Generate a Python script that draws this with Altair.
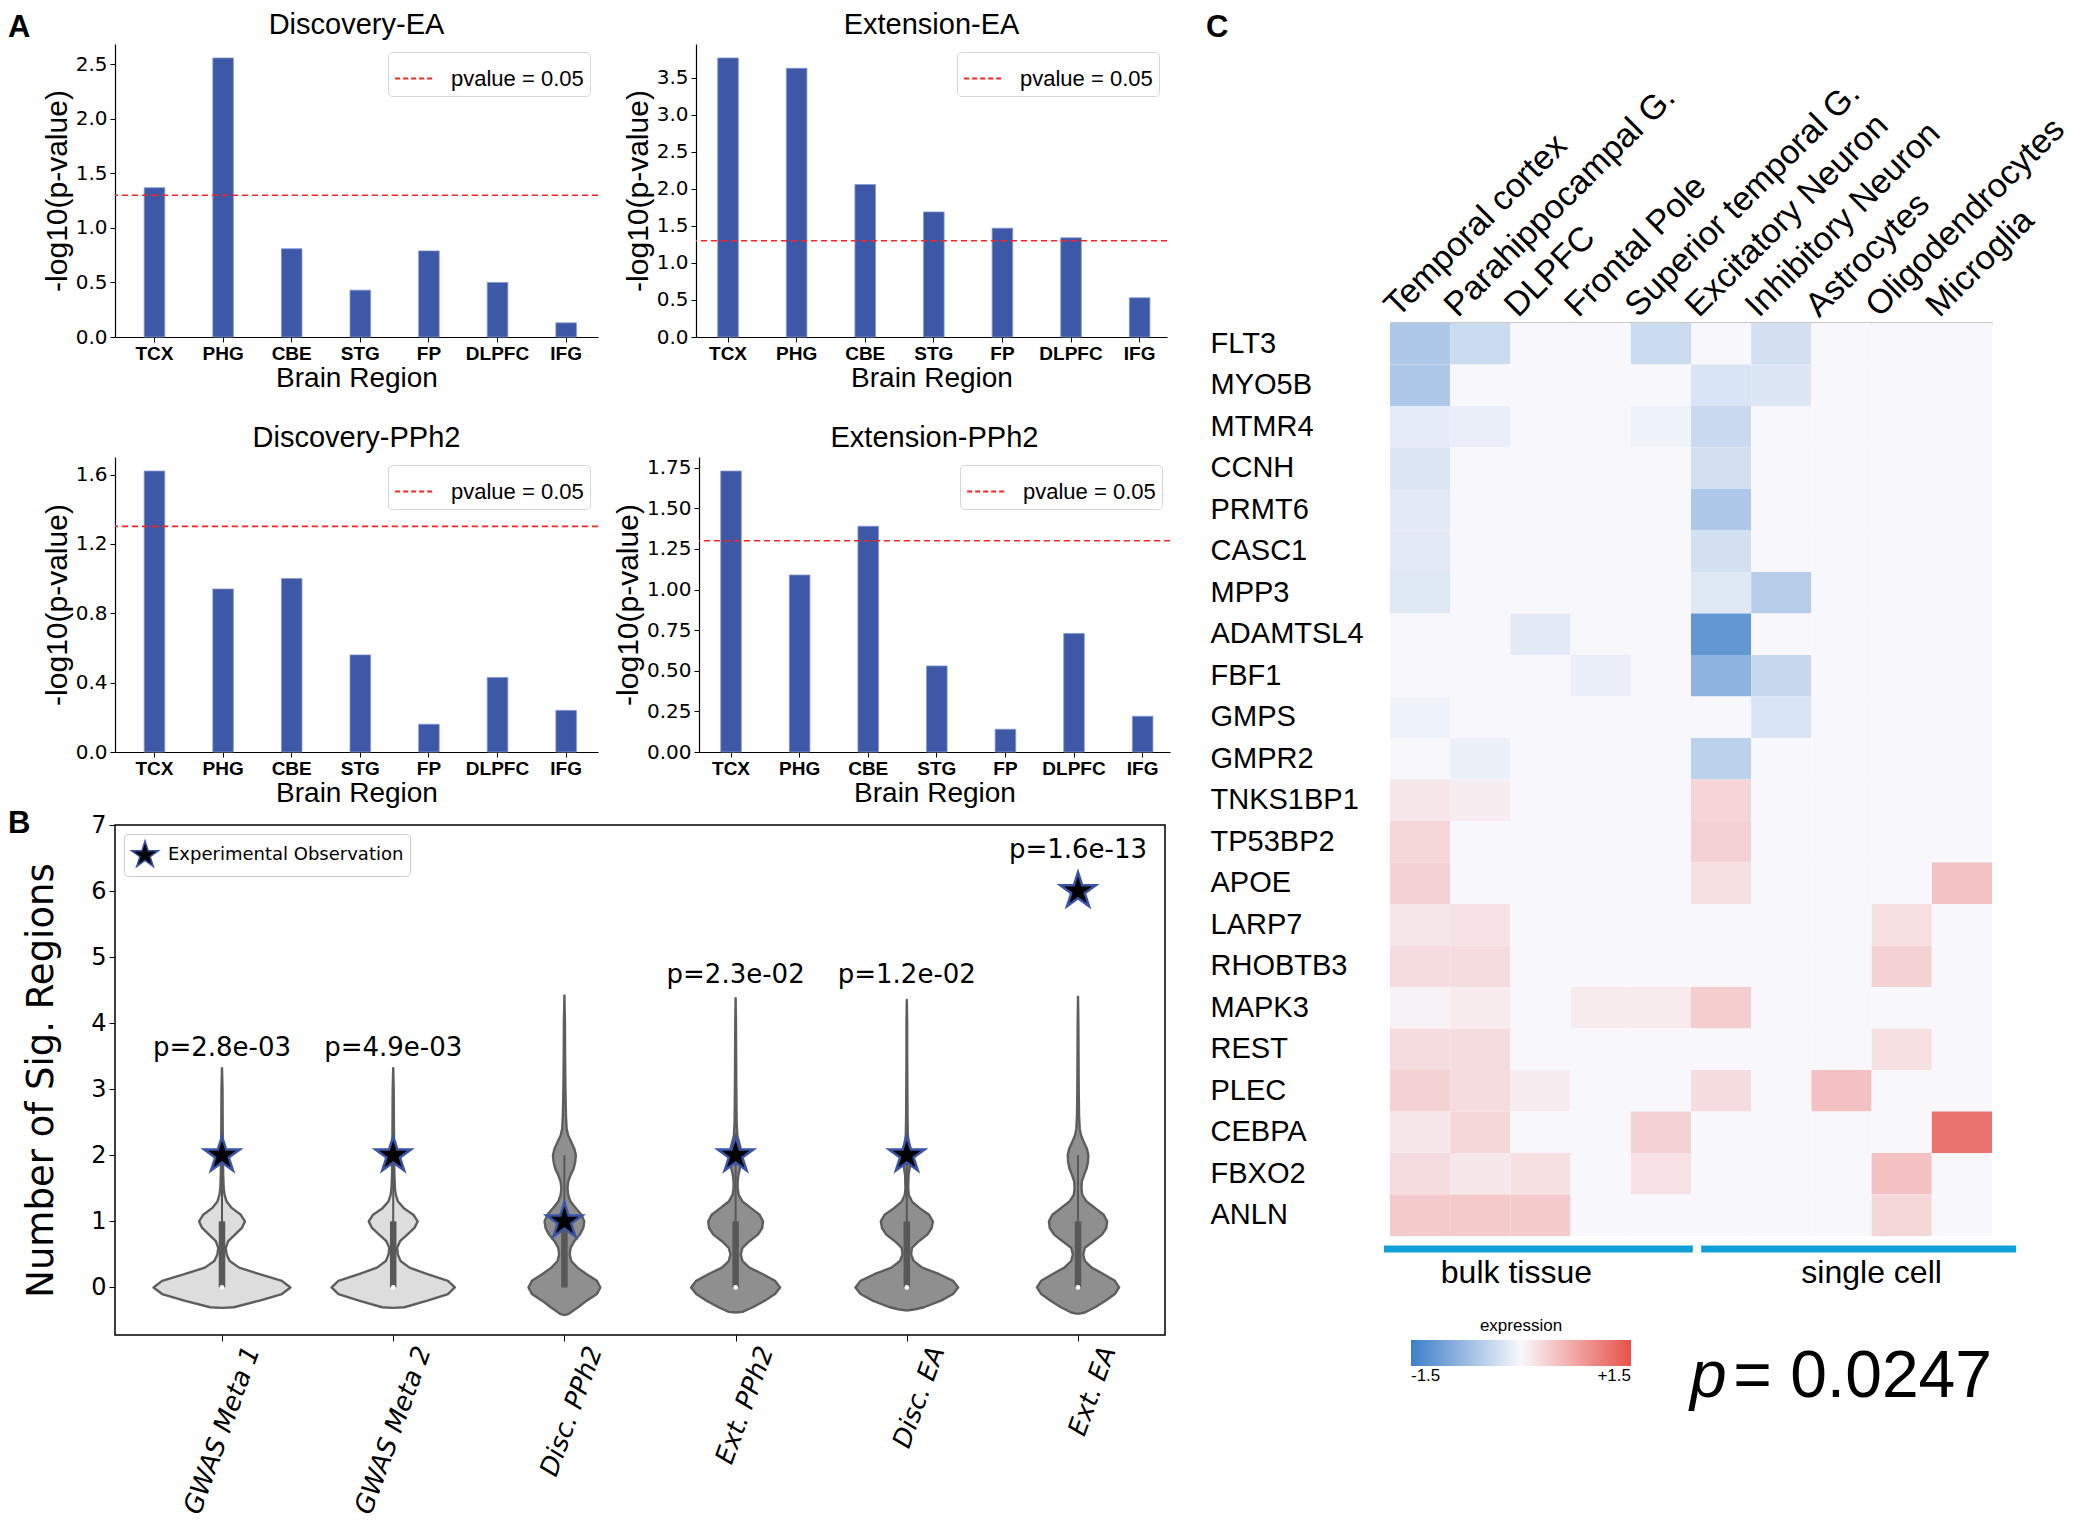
import altair as alt
import pandas as pd

FONT = "Liberation Sans"
NUMFONT = "DejaVu Sans"

# ---------------- Panel A data ----------------
regions = ["TCX", "PHG", "CBE", "STG", "FP", "DLPFC", "IFG"]
disc_ea = [1.37, 2.56, 0.81, 0.43, 0.79, 0.50, 0.13]
ext_ea = [3.77, 3.63, 2.06, 1.69, 1.47, 1.34, 0.53]
disc_pph2 = [1.62, 0.94, 1.00, 0.56, 0.16, 0.43, 0.24]
ext_pph2 = [1.73, 1.09, 1.39, 0.53, 0.14, 0.73, 0.22]
threshold = [1.30103]
threshold_label = ["pvalue = 0.05"]
ticks_disc_ea = [0.0, 0.5, 1.0, 1.5, 2.0, 2.5]
ticks_ext_ea = [0.0, 0.5, 1.0, 1.5, 2.0, 2.5, 3.0, 3.5]
ticks_disc_pph2 = [0.0, 0.2, 0.4, 0.6, 0.8, 1.0, 1.2, 1.4, 1.6]
ticks_ext_pph2 = [0.0, 0.25, 0.5, 0.75, 1.0, 1.25, 1.5, 1.75]

# ---------------- Panel B data ----------------
violin_names = ["GWAS Meta 1", "GWAS Meta 2", "Disc. PPh2", "Ext. PPh2", "Disc. EA", "Ext. EA"]
violin_kind = ["light", "light", "dark", "dark", "dark", "dark"]
observed = [2, 2, 1, 2, 2, 6]
p_labels = ["p=2.8e-03", "p=4.9e-03", "", "p=2.3e-02", "p=1.2e-02", "p=1.6e-13"]
p_label_y = [3.63, 3.63, 0.0, 4.73, 4.73, 6.62]
box_q1 = [0, 0, 0, 0, 0, 0]
box_q3 = [1, 1, 1, 1, 1, 1]
medians = [0, 0, 1, 0, 0, 0]
whisker_hi = [2, 2, 2, 2, 2, 2]

gwas1_lev = [-0.31, -0.3, -0.2, -0.1, 0, 0.1, 0.2, 0.3, 0.4, 0.5, 0.6, 0.7, 0.8, 0.9,
             1.0, 1.1, 1.2, 1.3, 1.4, 1.5, 1.7, 2.0, 2.5, 3.0, 3.32]
gwas1_hw = [0, 0.07, 0.22, 0.35, 0.40, 0.35, 0.22, 0.10, 0.045, 0.027, 0.022, 0.036, 0.076, 0.116,
            0.134, 0.11, 0.058, 0.027, 0.015, 0.01, 0.007, 0.005, 0.004, 0.003, 0]
gwas2_lev = [-0.31, -0.3, -0.2, -0.1, 0, 0.1, 0.2, 0.3, 0.4, 0.5, 0.6, 0.7, 0.8, 0.9,
             1.0, 1.1, 1.2, 1.3, 1.4, 1.5, 1.7, 2.0, 2.5, 3.0, 3.32]
gwas2_hw = [0, 0.065, 0.2, 0.32, 0.36, 0.32, 0.2, 0.095, 0.043, 0.027, 0.023, 0.04, 0.082, 0.124,
            0.143, 0.118, 0.062, 0.028, 0.015, 0.01, 0.007, 0.005, 0.004, 0.003, 0]
dpph2_lev = [-0.42, -0.4, -0.3, -0.2, -0.1, 0, 0.1, 0.2, 0.3, 0.4, 0.5, 0.6, 0.7, 0.8, 0.9,
             1.0, 1.1, 1.2, 1.3, 1.4, 1.5, 1.6, 1.7, 1.8, 1.9, 2.0, 2.1, 2.2, 2.3, 2.4,
             2.6, 3.0, 3.5, 4.0, 4.42]
dpph2_hw = [0, 0.025, 0.08, 0.13, 0.19, 0.21, 0.19, 0.13, 0.076, 0.04, 0.031, 0.036, 0.058, 0.09, 0.11,
            0.116, 0.10, 0.067, 0.036, 0.022, 0.018, 0.022, 0.036, 0.054, 0.063, 0.067, 0.058, 0.04, 0.022, 0.013,
            0.009, 0.006, 0.004, 0.003, 0]
epph2_lev = [-0.38, -0.37, -0.3, -0.2, -0.1, 0, 0.1, 0.2, 0.3, 0.4, 0.5, 0.6, 0.7, 0.8, 0.9,
             1.0, 1.1, 1.2, 1.3, 1.4, 1.5, 1.6, 1.7, 1.8, 1.9, 2.0, 2.1, 2.2, 2.3, 2.5,
             3.0, 3.5, 4.0, 4.38]
epph2_hw = [0, 0.04, 0.1, 0.17, 0.23, 0.26, 0.23, 0.16, 0.08, 0.04, 0.03, 0.04, 0.08, 0.13, 0.155,
            0.16, 0.14, 0.09, 0.04, 0.018, 0.012, 0.012, 0.016, 0.025, 0.032, 0.035, 0.03, 0.02, 0.01, 0.006,
            0.004, 0.003, 0.002, 0]
dea_lev = [-0.35, -0.33, -0.3, -0.2, -0.1, 0, 0.1, 0.2, 0.3, 0.4, 0.5, 0.6, 0.7, 0.8, 0.9,
           1.0, 1.1, 1.2, 1.3, 1.4, 1.5, 1.7, 1.8, 1.9, 2.0, 2.1, 2.2, 2.3,
           2.6, 3.0, 3.5, 4.0, 4.35]
dea_hw = [0, 0.05, 0.1, 0.2, 0.27, 0.30, 0.27, 0.19, 0.09, 0.04, 0.025, 0.03, 0.07, 0.12, 0.145,
          0.152, 0.13, 0.075, 0.03, 0.012, 0.008, 0.01, 0.016, 0.022, 0.025, 0.02, 0.012, 0.006,
          0.004, 0.003, 0.002, 0.002, 0]
eea_lev = [-0.4, -0.38, -0.3, -0.2, -0.1, 0, 0.1, 0.2, 0.3, 0.4, 0.5, 0.6, 0.7, 0.8, 0.9,
           1.0, 1.1, 1.2, 1.3, 1.4, 1.5, 1.6, 1.7, 1.8, 1.9, 2.0, 2.1, 2.2, 2.3, 2.4,
           2.6, 3.0, 3.5, 4.0, 4.4]
eea_hw = [0, 0.04, 0.1, 0.16, 0.215, 0.24, 0.215, 0.15, 0.08, 0.04, 0.03, 0.04, 0.09, 0.14, 0.165,
          0.17, 0.15, 0.1, 0.05, 0.025, 0.02, 0.022, 0.035, 0.05, 0.058, 0.06, 0.052, 0.034, 0.018, 0.01,
          0.006, 0.004, 0.003, 0.002, 0]
violin_levels = [gwas1_lev, gwas2_lev, dpph2_lev, epph2_lev, dea_lev, eea_lev]
violin_halfwidths = [gwas1_hw, gwas2_hw, dpph2_hw, epph2_hw, dea_hw, eea_hw]

# ---------------- Panel C data ----------------
tissues = ["Temporal cortex", "Parahippocampal G.", "DLPFC", "Frontal Pole", "Superior temporal G.",
           "Excitatory Neuron", "Inhibitory Neuron", "Astrocytes", "Oligodendrocytes", "Microglia"]
genes = ["FLT3", "MYO5B", "MTMR4", "CCNH", "PRMT6", "CASC1", "MPP3", "ADAMTSL4", "FBF1", "GMPS",
         "GMPR2", "TNKS1BP1", "TP53BP2", "APOE", "LARP7", "RHOBTB3", "MAPK3", "REST", "PLEC",
         "CEBPA", "FBXO2", "ANLN"]
expression = [
    [-0.6, -0.35, 0, 0, -0.35, 0, -0.3, 0, 0, 0],
    [-0.6, 0, 0, 0, 0, -0.25, -0.22, 0, 0, 0],
    [-0.15, -0.12, 0, 0, -0.08, -0.38, 0, 0, 0, 0],
    [-0.22, 0, 0, 0, 0, -0.3, 0, 0, 0, 0],
    [-0.17, 0, 0, 0, 0, -0.6, 0, 0, 0, 0],
    [-0.17, 0, 0, 0, 0, -0.3, 0, 0, 0, 0],
    [-0.2, 0, 0, 0, 0, -0.2, -0.52, 0, 0, 0],
    [0, 0, -0.17, 0, 0, -1.2, 0, 0, 0, 0],
    [0, 0, 0, -0.12, 0, -0.85, -0.4, 0, 0, 0],
    [-0.08, 0, 0, 0, 0, 0, -0.25, 0, 0, 0],
    [0, -0.1, 0, 0, 0, -0.48, 0, 0, 0, 0],
    [0.15, 0.1, 0, 0, 0, 0.32, 0, 0, 0, 0],
    [0.3, 0, 0, 0, 0, 0.35, 0, 0, 0, 0],
    [0.35, 0, 0, 0, 0, 0.22, 0, 0, 0, 0.48],
    [0.15, 0.2, 0, 0, 0, 0, 0, 0, 0.22, 0],
    [0.25, 0.25, 0, 0, 0, 0, 0, 0, 0.35, 0],
    [0.05, 0.12, 0, 0.12, 0.12, 0.38, 0, 0, 0, 0],
    [0.25, 0.25, 0, 0, 0, 0, 0, 0, 0.22, 0],
    [0.35, 0.25, 0.1, 0, 0, 0.25, 0, 0.5, 0, 0],
    [0.15, 0.3, 0, 0, 0.35, 0, 0, 0, 0, 1.2],
    [0.25, 0.15, 0.22, 0, 0.2, 0, 0, 0, 0.5, 0],
    [0.42, 0.42, 0.42, 0, 0, 0, 0, 0, 0.3, 0],
]
group_names = ["bulk tissue", "single cell"]
group_start = [-0.1, 5.17]
group_end = [5.03, 10.4]
group_label_at = [2.1, 8.0]
p_overall = "0.0247"

BAR_BLUE = "#3d58a6"
RED = "#ff2222"
# five-pointed star as a custom symbol path (unit box -1..1)
STAR_PATH = ("M0,-1L0.2245,-0.309L0.951,-0.309L0.363,0.118L0.588,0.809L0,0.382"
             "L-0.588,0.809L-0.363,0.118L-0.951,-0.309L-0.2245,-0.309Z")


def cond_expr(names, idx_expr):
    out = "''"
    for k in range(len(names) - 1, -1, -1):
        out = "(" + idx_expr + " == " + str(k) + " ? '" + names[k] + "' : " + out + ")"
    return out


def text_chart(txt, x, y, size, weight="normal", align="left", baseline="top", style="normal", font=FONT):
    return alt.Chart(pd.DataFrame({"t": [txt]})).mark_text(
        font=font, fontSize=size, fontWeight=weight, align=align, baseline=baseline, fontStyle=style,
        color="black"
    ).encode(text="t:N", x=alt.value(x), y=alt.value(y))


def panel_a(title, vals, ticks, fmt, width, height, pad_outer, align, letter=None):
    df = pd.DataFrame({"region": regions, "val": vals})
    ymax = max(vals) * 1.05
    bars = alt.Chart(df).mark_bar(color=BAR_BLUE, stroke="#8498d2", strokeWidth=0.8).encode(
        x=alt.X("region:N", sort=regions, title="Brain Region",
                scale=alt.Scale(paddingInner=0.7, paddingOuter=pad_outer, align=align),
                axis=alt.Axis(labelAngle=0, labelFont=FONT, labelFontSize=19, labelFontWeight="bold",
                              labelColor="black", labelPadding=2, tickSize=5, tickColor="black",
                              domainColor="black", domainWidth=1.2, titleFont=FONT, titleFontSize=28,
                              titleFontWeight="normal", titleColor="black", titlePadding=1)),
        y=alt.Y("val:Q", title="-log10(p-value)",
                scale=alt.Scale(domain=[0, ymax], nice=False, zero=True),
                axis=alt.Axis(values=ticks, format=fmt, labelFont=NUMFONT, labelFontSize=20,
                              labelColor="black", tickSize=5, tickColor="black", domainColor="black",
                              domainWidth=1.2, grid=False, titleFont=FONT, titleFontSize=30,
                              titleFontWeight="normal", titleColor="black", titlePadding=3,
                              labelPadding=3)),
    )
    thr = alt.Chart(pd.DataFrame({"thr": threshold, "lab": threshold_label})).mark_rule(
        strokeDash=[6, 4], strokeWidth=1.6
    ).encode(
        y=alt.Y("thr:Q", title="-log10(p-value)"),
        color=alt.Color("lab:N", scale=alt.Scale(range=[RED]),
                        legend=alt.Legend(title=None, orient="top-right", offset=8, symbolType="stroke",
                                          symbolDash=[5, 3], symbolStrokeWidth=2, symbolSize=1500,
                                          labelFont=FONT, labelFontSize=22, labelColor="black",
                                          labelOffset=16, fillColor="white", strokeColor="#d6d6d6",
                                          cornerRadius=4, padding=6)),
    )
    layers = [bars, thr, text_chart(title, width / 2, -4, 29, align="center", baseline="bottom")]
    if letter:
        layers.append(text_chart(letter, -107, -31, 31, weight="bold"))
    return alt.layer(*layers).properties(width=width, height=height)


def indep(ch):
    return ch.resolve_scale(color="independent", shape="independent").resolve_legend(
        color="independent", shape="independent")


A1 = panel_a("Discovery-EA", disc_ea, ticks_disc_ea, ".1f", 483, 293, 0.37, 0.575, letter="A")
A2 = panel_a("Extension-EA", ext_ea, ticks_ext_ea, ".1f", 471, 293, 0.283, 0.56)
A3 = panel_a("Discovery-PPh2", disc_pph2, ticks_disc_pph2, ".1f", 483, 295, 0.37, 0.575)
A4 = panel_a("Extension-PPh2", ext_pph2, ticks_ext_pph2, ".2f", 471, 295, 0.283, 0.56)

row1 = indep(alt.hconcat(A1, A2, spacing=24))
row2 = indep(alt.hconcat(A3, A4, spacing=14))
rowsA = indep(alt.vconcat(row1, row2, spacing=32))

# ---------------- Panel B ----------------
orows = []
for i, (name, kind, ys, ws) in enumerate(zip(violin_names, violin_kind, violin_levels, violin_halfwidths)):
    left_side = [(i - w, y) for y, w in zip(ys, ws)]
    right_side = [(i + w, y) for y, w in reversed(list(zip(ys, ws)))]
    for k, (xv, yv) in enumerate(left_side + right_side):
        orows.append({"name": name, "kind": kind, "vx": xv, "vy": yv, "ord": k})
odf = pd.DataFrame(orows)

bdf = pd.DataFrame({
    "name": violin_names, "pos": list(range(len(violin_names))), "q1": box_q1, "q3": box_q3,
    "med": medians, "whi": whisker_hi, "obs": observed,
    "lab": ["Experimental Observation"] * len(violin_names),
})
pdf = pd.DataFrame({
    "pos": [i for i, t in enumerate(p_labels) if t],
    "py": [p_label_y[i] for i, t in enumerate(p_labels) if t],
    "ptxt": [t for t in p_labels if t],
})

B_W, B_H = 1050, 510
YT = "Number of Sig. Regions"
XB = alt.Scale(domain=[-0.625, 5.508], nice=False, zero=False)
YB = alt.Scale(domain=[-0.72, 7], nice=False, zero=False)

xb_axis = alt.Axis(values=list(range(6)), labelExpr=cond_expr(violin_names, "round(datum.value)"),
                   labelAngle=-70, labelAlign="right", labelBaseline="middle", labelFont=NUMFONT,
                   labelFontStyle="italic", labelFontSize=26, labelColor="black", labelOffset=30,
                   labelPadding=6, tickSize=6, tickColor="black", domain=False, grid=False,
                   labelOverlap=False, labelFlush=False)
yb_axis = alt.Axis(values=list(range(8)), format="d", labelFont=NUMFONT, labelFontSize=24,
                   labelColor="black", tickSize=6, tickColor="black", domain=False, grid=False,
                   titleFont=NUMFONT, titleFontSize=37, titleFontWeight="normal",
                   titleColor="black", titlePadding=30, labelPadding=3)


def violin_layer(kind, fill):
    return alt.Chart(odf[odf["kind"] == kind]).mark_line(
        fill=fill, stroke="#5e5e5e", strokeWidth=2.4, strokeJoin="round"
    ).encode(
        x=alt.X("vx:Q", scale=XB, title=None, axis=xb_axis),
        y=alt.Y("vy:Q", scale=YB, title=YT, axis=yb_axis),
        detail="name:N",
        order="ord:Q",
    )


viol_light = violin_layer("light", "#dddddd")
viol_dark = violin_layer("dark", "#8f8f8f")
whisk = alt.Chart(bdf).mark_rule(color="#585858", strokeWidth=2).encode(
    x=alt.X("pos:Q", scale=XB, title=None), y=alt.Y("q1:Q", scale=YB, title=YT), y2="whi:Q")
box = alt.Chart(bdf).mark_rule(color="#585858", strokeWidth=6.5).encode(
    x=alt.X("pos:Q", scale=XB, title=None), y=alt.Y("q1:Q", scale=YB, title=YT), y2="q3:Q")
medpt = alt.Chart(bdf).mark_point(shape="circle", filled=True, size=22, color="white", opacity=1).encode(
    x=alt.X("pos:Q", scale=XB, title=None), y=alt.Y("med:Q", scale=YB, title=YT))
stars = alt.Chart(bdf).mark_point(filled=True, size=1400, fill="black", stroke="#3a55a8", strokeWidth=2.5,
                                  opacity=1).encode(
    x=alt.X("pos:Q", scale=XB, title=None), y=alt.Y("obs:Q", scale=YB, title=YT),
    shape=alt.Shape("lab:N", scale=alt.Scale(range=[STAR_PATH]),
                    legend=alt.Legend(title=None, orient="top-left", offset=9, fillColor="white",
                                      strokeColor="#cccccc", cornerRadius=4, padding=6, labelFont=NUMFONT,
                                      labelFontSize=18, labelColor="black", symbolSize=800,
                                      labelOffset=8, labelLimit=0)))
ptext = alt.Chart(pdf).mark_text(font=NUMFONT, fontSize=26, color="black").encode(
    x=alt.X("pos:Q", scale=XB, title=None), y=alt.Y("py:Q", scale=YB, title=YT), text="ptxt:N")
frame = alt.Chart(pd.DataFrame({"f": [0]})).mark_rect(
    fill="transparent", stroke="black", strokeWidth=1.5).encode(
    x=alt.value(0), x2=alt.value(B_W), y=alt.value(0), y2=alt.value(B_H))

B = alt.layer(viol_light, viol_dark, whisk, box, medpt, stars, ptext, frame,
              text_chart("B", -107, -16, 31, weight="bold")).properties(width=B_W, height=B_H)

left = indep(alt.vconcat(rowsA, B, spacing=1))

# ---------------- Panel C ----------------
HEAT_W, HEAT_H = 602, 913
hrows = []
for g, row in zip(genes, expression):
    for j, v in enumerate(row):
        hrows.append({"gene": g, "col": j, "col_end": j + 1, "val": v})
hdf = pd.DataFrame(hrows)
XH = alt.Scale(domain=[0, len(tissues)], nice=False, zero=False)
XH_AXIS = alt.Axis(orient="top", values=[j + 0.5 for j in range(len(tissues))],
                   labelExpr=cond_expr(tissues, "floor(datum.value)"), labelAngle=-45,
                   labelAlign="left", labelBaseline="middle", labelFont=FONT, labelFontSize=34,
                   labelColor="black", labelPadding=12, labelOffset=-30, ticks=False, tickSize=0,
                   domainColor="#c8c8c8", domainWidth=3, grid=False, labelOverlap=False,
                   labelFlush=False, labelLimit=0)

rect = alt.Chart(hdf).mark_rect().encode(
    x=alt.X("col:Q", scale=XH, title=None, axis=XH_AXIS),
    x2="col_end:Q",
    y=alt.Y("gene:N", sort=genes, title=None, scale=alt.Scale(paddingInner=0, paddingOuter=0),
            axis=alt.Axis(labelAlign="left", labelPadding=180, ticks=False, tickSize=0, domain=False,
                          labelFont=FONT, labelFontSize=29, labelColor="black", labelBaseline="middle",
                          labelLimit=0)),
    color=alt.Color("val:Q",
                    scale=alt.Scale(domain=[-1.5, 0, 1.5], range=["#3d7fc9", "#f8f8fc", "#e8524a"],
                                    interpolate="rgb"),
                    legend=alt.Legend(orient="none", legendX=21, legendY=HEAT_H + 104, direction="horizontal",
                                      gradientLength=220, gradientThickness=26, title=None,
                                      values=[-1.5, 1.5],
                                      labelExpr="datum.value > 0 ? '+1.5' : '-1.5'", labelFont=FONT,
                                      labelFontSize=17, labelColor="black", padding=0)),
)
gdf = pd.DataFrame({"group": group_names, "gs": group_start, "ge": group_end, "gm": group_label_at})
grule = alt.Chart(gdf).mark_rule(color="#119fd7", strokeWidth=7).encode(
    x=alt.X("gs:Q", scale=XH, title=None, axis=XH_AXIS), x2="ge:Q", y=alt.value(HEAT_H + 13))
gtext = alt.Chart(gdf).mark_text(font=FONT, fontSize=32, baseline="top", color="black").encode(
    x=alt.X("gm:Q", scale=XH, title=None, axis=XH_AXIS), text="group:N", y=alt.value(HEAT_H + 22))

heat = alt.layer(
    rect, grule, gtext,
    text_chart("expression", 131, HEAT_H + 99, 17, align="center", baseline="bottom"),
    text_chart("p", 300, HEAT_H + 161, 66, align="left", baseline="alphabetic", style="italic"),
    text_chart("= " + p_overall, HEAT_W, HEAT_H + 161, 66, align="right", baseline="alphabetic"),
).properties(width=HEAT_W, height=HEAT_H)
spacer = text_chart("C", -184, -31, 31, weight="bold").properties(width=HEAT_W, height=1)
C = indep(alt.vconcat(spacer, heat, spacing=30))

chart = indep(alt.hconcat(left, C, spacing=35)).properties(
    padding={"left": 0, "top": 3, "right": 0, "bottom": 0}
).configure_view(strokeWidth=0).configure_axis(grid=False)

chart.save("out.html", embed_options={"renderer": "svg", "actions": False})
